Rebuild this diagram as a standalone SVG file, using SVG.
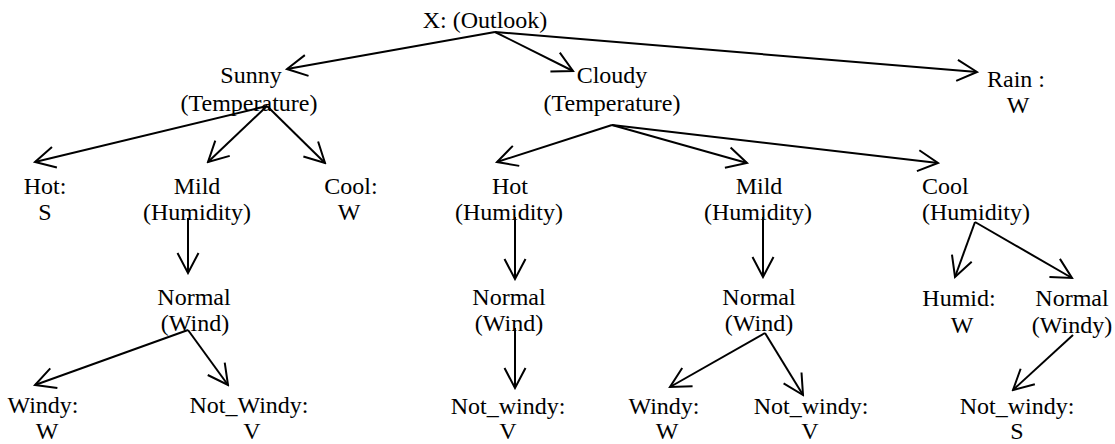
<svg xmlns="http://www.w3.org/2000/svg" width="1115" height="444" viewBox="0 0 1115 444">
<style>
text{font-family:"Liberation Serif","Times New Roman",serif;font-size:24px;fill:#000;text-anchor:middle}
.l{text-anchor:start}
.c line{stroke:#000;stroke-width:2;marker-end:url(#ah)}
</style>
<defs>
<marker id="ah" markerUnits="userSpaceOnUse" viewBox="-24 -13 26 26" markerWidth="26" markerHeight="26" refX="0" refY="0" orient="auto">
<path d="M-20,-10.5 L0,0 L-20,10.5" fill="none" stroke="#000" stroke-width="2"/>
</marker>
</defs>
<rect width="1115" height="444" fill="#fff"/>
<g class="c" id="connectors">
<line x1="495" y1="32" x2="287" y2="69"/>
<line x1="495" y1="32" x2="573" y2="71"/>
<line x1="495" y1="32" x2="977" y2="72"/>
<line x1="267" y1="106" x2="35" y2="162"/>
<line x1="267" y1="106" x2="208" y2="162"/>
<line x1="267" y1="106" x2="325" y2="163"/>
<line x1="188" y1="218" x2="188" y2="273"/>
<line x1="188" y1="330" x2="35" y2="385"/>
<line x1="188" y1="330" x2="228" y2="385"/>
<line x1="612" y1="125" x2="497" y2="162"/>
<line x1="612" y1="125" x2="747" y2="163"/>
<line x1="612" y1="125" x2="938" y2="163"/>
<line x1="515" y1="217" x2="515" y2="279"/>
<line x1="763" y1="217" x2="763" y2="277"/>
<line x1="515" y1="328" x2="515" y2="388"/>
<line x1="765" y1="333" x2="670" y2="387"/>
<line x1="765" y1="333" x2="803" y2="395"/>
<line x1="975" y1="222" x2="955" y2="277"/>
<line x1="975" y1="222" x2="1072" y2="278"/>
<line x1="1073" y1="335" x2="1013" y2="390"/>
</g>
<g id="root"><text x="485" y="28">X: (Outlook)</text></g>
<g id="sunny"><text x="251" y="83">Sunny</text><text x="249" y="111">(Temperature)</text></g>
<g id="cloudy"><text x="612" y="83">Cloudy</text><text x="612" y="111">(Temperature)</text></g>
<g id="rain"><text x="1016" y="87">Rain :</text><text x="1018" y="113">W</text></g>
<g id="s-hot"><text x="45" y="194">Hot:</text><text x="45" y="220">S</text></g>
<g id="s-mild"><text x="197" y="194">Mild</text><text x="197" y="220">(Humidity)</text></g>
<g id="s-cool"><text x="351" y="194">Cool:</text><text x="349" y="220">W</text></g>
<g id="c-hot"><text x="510" y="194">Hot</text><text x="509" y="220">(Humidity)</text></g>
<g id="c-mild"><text x="759" y="194">Mild</text><text x="758" y="220">(Humidity)</text></g>
<g id="c-cool"><text class="l" x="922" y="194">Cool</text><text class="l" x="922" y="220">(Humidity)</text></g>
<g id="s-normal"><text x="194" y="305">Normal</text><text x="195" y="331">(Wind)</text></g>
<g id="ch-normal"><text x="509" y="305">Normal</text><text x="509" y="331">(Wind)</text></g>
<g id="cm-normal"><text x="759" y="305">Normal</text><text x="759" y="331">(Wind)</text></g>
<g id="cc-humid"><text x="959" y="306">Humid:</text><text x="962" y="333">W</text></g>
<g id="cc-normal"><text x="1072" y="306">Normal</text><text x="1072" y="333">(Windy)</text></g>
<g id="s-windy"><text x="43" y="413">Windy:</text><text x="47" y="439">W</text></g>
<g id="s-notwindy"><text x="249" y="413">Not_Windy:</text><text x="252" y="439">V</text></g>
<g id="ch-notwindy"><text x="508" y="414">Not_windy:</text><text x="508" y="439">V</text></g>
<g id="cm-windy"><text x="664" y="414">Windy:</text><text x="667" y="439">W</text></g>
<g id="cm-notwindy"><text x="811" y="414">Not_windy:</text><text x="810" y="439">V</text></g>
<g id="cc-notwindy"><text x="1017" y="414">Not_windy:</text><text x="1017" y="439">S</text></g>
</svg>
